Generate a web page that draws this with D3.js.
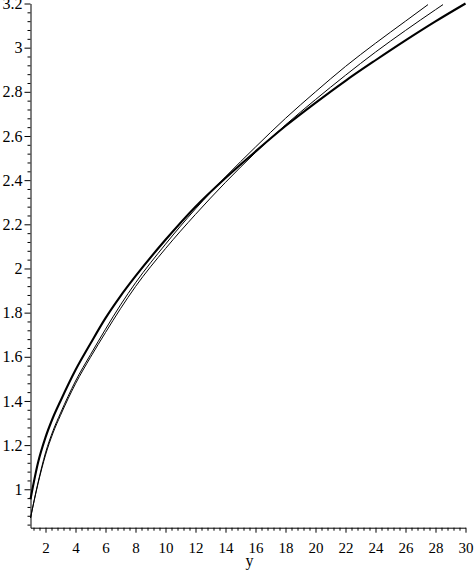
<!DOCTYPE html>
<html><head><meta charset="utf-8">
<script src="https://cdn.jsdelivr.net/npm/d3@7"></script>
<style>
html,body{margin:0;padding:0;background:#fff;}
svg{display:block;}
text{font-family:"Liberation Serif","DejaVu Serif",serif;fill:#000;}
</style></head>
<body>
<svg id="c" width="474" height="570"></svg>
<script>
// ---- data ----
const xThick = [1,1.5,2,2.5,3,4,5,6,7,8,10,12,14,16,18,20,22,24,26,28,30];
const yThick = [0.955,1.12,1.235,1.325,1.40,1.54,1.66,1.775,1.875,1.965,2.13,2.28,2.41,2.53,2.645,2.75,2.85,2.943,3.033,3.119,3.2];
const xThin1 = [1,1.5,2,2.5,3,4,5,6,7,8,10,12,14,16,18,20,22,24,26,27.5];
const yThin1 = [0.87,1.03,1.165,1.265,1.345,1.49,1.61,1.725,1.835,1.935,2.11,2.27,2.415,2.55,2.68,2.80,2.915,3.02,3.12,3.195];
const xThin2 = [1,1.5,2,2.5,3,4,5,6,7,8,10,12,14,16,18,20,22,24,26,28,28.5];
const yThin2 = [0.87,1.025,1.155,1.255,1.335,1.478,1.598,1.71,1.818,1.918,2.09,2.245,2.39,2.525,2.65,2.765,2.875,2.98,3.078,3.172,3.195];
const xTickLabels = [2,4,6,8,10,12,14,16,18,20,22,24,26,28,30];
const yTickLabels = [1,1.2,1.4,1.6,1.8,2,2.2,2.4,2.6,2.8,3,3.2];
const xAxisTitle = "y";

const svg = d3.select("#c");
const x = d3.scaleLinear().domain([1,30]).range([30.5,465.5]);
const y = d3.scaleLinear().domain([0.826,3.2]).range([527.7,3.5]);

const xMinor = d3.range(3,76).map(i=>+(i*0.4).toFixed(2)).filter(v=>Math.abs(v/2-Math.round(v/2))>1e-6);
const yMinor = d3.range(21,81).map(i=>+(i*0.04).toFixed(2)).filter(v=>Math.abs(v/0.2-Math.round(v/0.2))>1e-6);

const gx = svg.append("g").attr("transform",`translate(0,${y.range()[0]})`);
gx.call(d3.axisBottom(x).tickValues(xTickLabels).tickSize(5).tickSizeOuter(0).tickFormat(d3.format("d")));
gx.append("g").call(d3.axisBottom(x).tickValues(xMinor).tickSize(3).tickFormat(""))
  .select(".domain").remove();
gx.selectAll("text").attr("font-size",15).attr("font-family","Liberation Serif").attr("dy","1.15em");
gx.selectAll("line,path").attr("stroke","#000");

const gy = svg.append("g").attr("transform",`translate(${x.range()[0]},0)`);
gy.call(d3.axisLeft(y).tickValues(yTickLabels).tickSize(6).tickSizeOuter(0).tickFormat(d3.format("~g")));
gy.append("g").call(d3.axisLeft(y).tickValues(yMinor).tickSize(3).tickFormat(""))
  .select(".domain").remove();
gy.selectAll("text").attr("font-size",16).attr("font-family","Liberation Serif").attr("x",-8);
gy.selectAll("line,path").attr("stroke","#000");

svg.append("text").attr("x",x(15.6)).attr("y",565.5).attr("text-anchor","middle")
  .attr("font-size",16).text(xAxisTitle);

const line = d3.line().x(d=>x(d[0])).y(d=>y(d[1])).curve(d3.curveMonotoneX);
const series = [
  {xs:xThin1, ys:yThin1, w:1},
  {xs:xThin2, ys:yThin2, w:1},
  {xs:xThick, ys:yThick, w:2.1}
];
series.forEach(s=>{
  svg.append("path").datum(s.xs.map((v,i)=>[v,s.ys[i]]))
    .attr("d",line).attr("fill","none").attr("stroke","#000").attr("stroke-width",s.w);
});
</script>
</body></html>
